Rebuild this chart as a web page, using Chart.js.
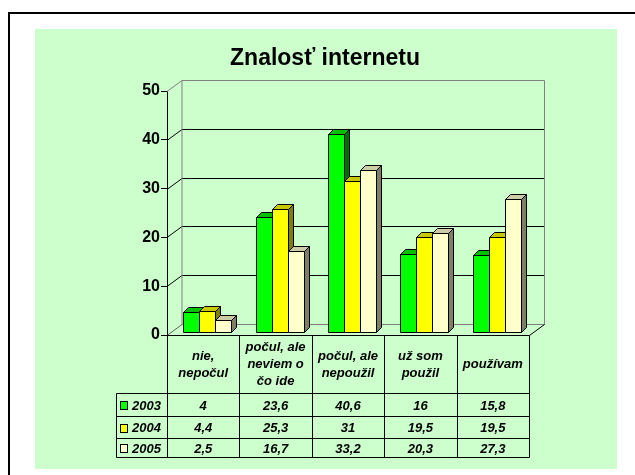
<!DOCTYPE html>
<html lang="sk">
<head>
<meta charset="UTF-8">
<title>Znalosť internetu</title>
<script src="https://cdn.jsdelivr.net/npm/chart.js"></script>
<style>
  body { margin: 0; background: #fff; }
  canvas { display: block; }
</style>
</head>
<body>
<canvas id="chart" width="635" height="475"></canvas>
<script>
// data
const categories = [
  ['nie,', 'nepočul'],
  ['počul, ale', 'neviem o', 'čo ide'],
  ['počul, ale', 'nepoužil'],
  ['už som', 'použil'],
  ['používam']
];
const seriesNames = ['2003', '2004', '2005'];
const values2003 = [4, 23.6, 40.6, 16, 15.8];
const values2004 = [4.4, 25.3, 31, 19.5, 19.5];
const values2005 = [2.5, 16.7, 33.2, 20.3, 27.3];
const yTicks = [0, 10, 20, 30, 40, 50];

// styles
const FONT = '"Liberation Sans", Arial, sans-serif';
const frontColors = ['#00FF00', '#FFFF00', '#FFFFCC'];
const topColors = ['#00C000', '#C8C800', '#CCCCA6'];
const sideColors = ['#007000', '#808000', '#7F7F66'];
const SHIFT = { x: 4, y: -3 };   // bars stand a little inside the floor
const DEPTH = { x: 5, y: -5 };   // bar depth
const WALL = { x: 15, y: -11 };  // back wall offset

function poly(ctx, pts, fill, stroke) {
  ctx.beginPath();
  ctx.moveTo(pts[0][0], pts[0][1]);
  for (let i = 1; i < pts.length; i++) ctx.lineTo(pts[i][0], pts[i][1]);
  if (fill) { ctx.closePath(); ctx.fillStyle = fill; ctx.fill(); }
  if (stroke) { ctx.strokeStyle = stroke; ctx.stroke(); }
}

const frame = {
  id: 'frame',
  beforeDraw(chart) {
    const ctx = chart.ctx;
    ctx.save();
    ctx.fillStyle = '#fff';
    ctx.fillRect(0, 0, chart.width, chart.height);
    ctx.fillStyle = '#CCFFCC';
    ctx.fillRect(35, 29, 582, 440);
    ctx.strokeStyle = '#000';
    ctx.lineWidth = 2;
    ctx.beginPath();
    ctx.moveTo(9, chart.height);
    ctx.lineTo(9, 13);
    ctx.lineTo(chart.width, 13);
    ctx.stroke();
    ctx.restore();
  }
};

const walls = {
  id: 'walls',
  beforeDatasetsDraw(chart) {
    const { ctx, chartArea: a, scales: { y } } = chart;
    const max = yTicks[yTicks.length - 1];
    const y0 = Math.round(y.getPixelForValue(0)) + 0.5;
    const yTop = Math.round(y.getPixelForValue(max)) + 0.5;
    const L = a.left, R = Math.round(a.right) + 0.5;
    ctx.save();
    ctx.lineWidth = 1;
    yTicks.forEach(v => {
      if (v === 0) return;
      const py = Math.round(y.getPixelForValue(v)) + 0.5;
      poly(ctx, [[L, py], [L + WALL.x, py + WALL.y], [R + WALL.x, py + WALL.y]], null, v === max ? '#808080' : '#000');
    });
    poly(ctx, [[L + WALL.x, yTop + WALL.y], [L + WALL.x, y0 + WALL.y], [R + WALL.x, y0 + WALL.y], [R + WALL.x, yTop + WALL.y]], null, '#808080');
    poly(ctx, [[L, y0], [L + WALL.x, y0 + WALL.y]], null, '#606060');
    poly(ctx, [[R, y0], [R + WALL.x, y0 + WALL.y]], null, '#000');
    poly(ctx, [[L, y0], [R, y0]], null, '#000');
    ctx.restore();
  }
};

// 3D bars drawn from the bar elements the library laid out
const bars3d = {
  id: 'bars3d',
  beforeDatasetDraw() {
    return false; // skip the flat bars, drawn below in order
  },
  afterDatasetsDraw(chart) {
    const ctx = chart.ctx;
    ctx.save();
    ctx.lineWidth = 1;
    chart.data.datasets.forEach((ds, i) => {
      chart.getDatasetMeta(i).data.forEach(bar => {
        const { x, y, base, width } = bar.getProps(['x', 'y', 'base', 'width'], true);
        const l = Math.round(x - width / 2 + SHIFT.x) + 0.5;
        const r = Math.round(x + width / 2 + SHIFT.x) + 0.5;
        const t = Math.round(y + SHIFT.y) + 0.5;
        const b = Math.round(base + SHIFT.y) + 0.5;
        poly(ctx, [[l, t], [r, t], [r + DEPTH.x, t + DEPTH.y], [l + DEPTH.x, t + DEPTH.y]], topColors[i], '#000');
        poly(ctx, [[r, t], [r + DEPTH.x, t + DEPTH.y], [r + DEPTH.x, b + DEPTH.y], [r, b]], sideColors[i], '#000');
        poly(ctx, [[l, t], [r, t], [r, b], [l, b]], frontColors[i], '#000');
      });
    });
    ctx.restore();
  }
};

const table = {
  id: 'table',
  afterDraw(chart) {
    const { ctx, chartArea: a, scales: { x } } = chart;
    const series = [values2003, values2004, values2005];
    const cw = (a.right - a.left) / categories.length;
    const top = Math.round(a.bottom) + 0.5;
    const rows = [top + 58, top + 81, top + 103, top + 122];
    const left = 116.5, right = Math.round(a.right) + 0.5;
    ctx.save();
    ctx.strokeStyle = '#000';
    ctx.lineWidth = 1;
    // grid
    rows.forEach(ry => poly(ctx, [[left, ry], [right, ry]], null, '#000'));
    poly(ctx, [[left, rows[0]], [left, rows[3]]], null, '#000');
    for (let i = 0; i <= categories.length; i++) {
      const cx = Math.round(a.left + i * cw) + 0.5;
      poly(ctx, [[cx, top], [cx, rows[3]]], null, '#000');
    }
    ctx.fillStyle = '#000';
    ctx.font = `italic bold 13px ${FONT}`;
    ctx.textAlign = 'center';
    ctx.textBaseline = 'middle';
    // category headers
    const hc = (top + rows[0]) / 2;
    categories.forEach((lines, i) => {
      const cx = x.getPixelForValue(i);
      lines.forEach((s, k) => {
        ctx.fillText(s, cx, hc + (k - (lines.length - 1) / 2) * 17);
      });
    });
    // series rows
    series.forEach((vals, r) => {
      const cy = (rows[r] + rows[r + 1]) / 2 + 1;
      vals.forEach((v, i) => {
        ctx.fillStyle = '#000';
        ctx.fillText(String(v).replace('.', ','), x.getPixelForValue(i), cy);
      });
      ctx.fillStyle = frontColors[r];
      ctx.fillRect(120.5, Math.round(cy) - 4.5, 7, 8);
      ctx.strokeRect(120.5, Math.round(cy) - 4.5, 7, 8);
      ctx.fillStyle = '#000';
      ctx.textAlign = 'left';
      ctx.fillText(seriesNames[r], 132, cy);
      ctx.textAlign = 'center';
    });
    ctx.restore();
  }
};

new Chart(document.getElementById('chart'), {
  type: 'bar',
  data: {
    labels: categories,
    datasets: seriesNames.map((name, i) => ({
      label: name,
      data: [values2003, values2004, values2005][i],
      backgroundColor: frontColors[i],
      borderColor: '#000',
      borderWidth: 1,
      barPercentage: 1,
      categoryPercentage: 0.663
    }))
  },
  options: {
    responsive: false,
    animation: false,
    devicePixelRatio: 1,
    layout: { padding: { left: 121, right: 106, top: 45, bottom: 140 } },
    plugins: {
      legend: { display: false },
      tooltip: { enabled: false },
      title: {
        display: true,
        text: 'Znalosť internetu',
        color: '#000',
        font: { family: FONT, size: 23, weight: 'bold' },
        padding: { top: 0, bottom: 18.4 }
      }
    },
    scales: {
      x: { display: false },
      y: {
        min: 0,
        max: 50,
        afterFit: s => { s.width = 46; },
        afterBuildTicks: s => { s.ticks = yTicks.map(v => ({ value: v })); },
        ticks: { color: '#000', padding: 1, font: { family: FONT, size: 16, weight: 'bold' } },
        grid: { drawOnChartArea: false, color: '#000', tickLength: 6 },
        border: { display: true, color: '#000' }
      }
    }
  },
  plugins: [frame, walls, bars3d, table]
});
</script>
</body>
</html>
